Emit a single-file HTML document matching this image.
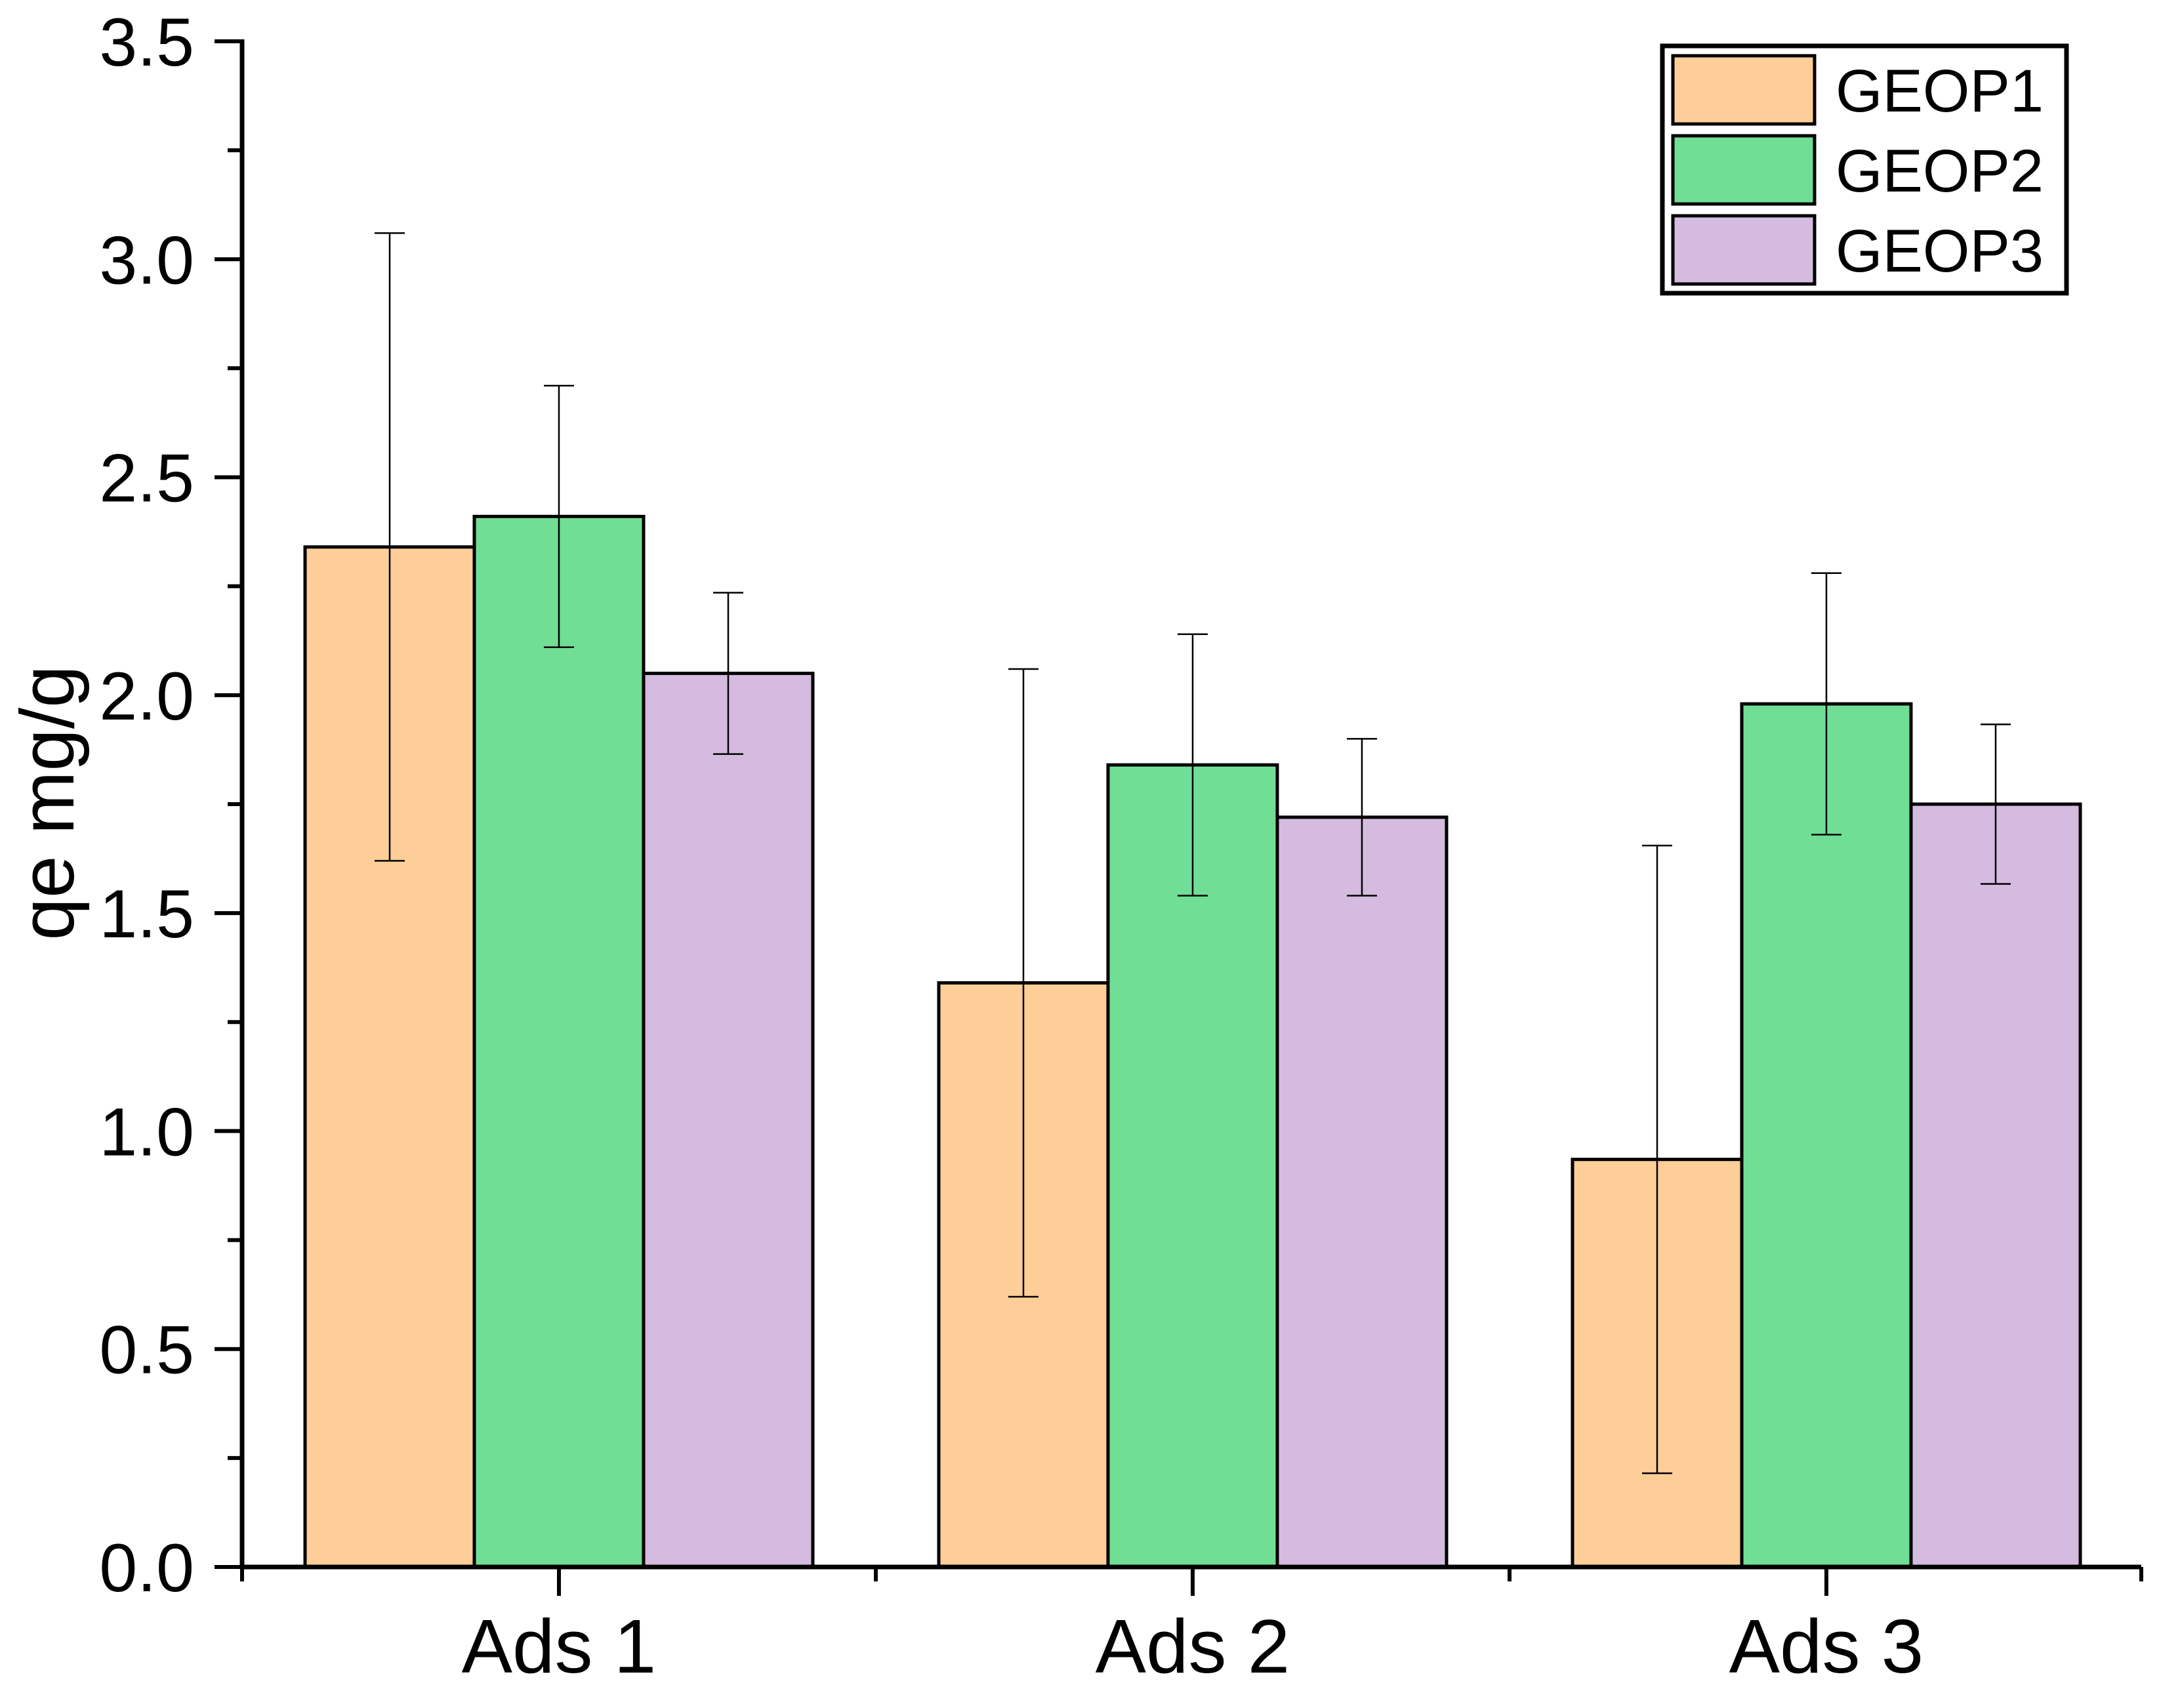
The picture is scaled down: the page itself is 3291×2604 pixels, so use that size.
<!DOCTYPE html>
<html><head><meta charset="utf-8"><style>
html,body{margin:0;padding:0;background:#fff;}
svg{display:block;font-family:"Liberation Sans",Arial,sans-serif;}
</style></head><body>
<svg id="chart" width="3291" height="2604" viewBox="0 0 3291 2604" xmlns="http://www.w3.org/2000/svg">
<g id="bars"></g>
<g id="errs"></g>
<g id="axes"></g>
<text transform="translate(112,1224) rotate(-90)" text-anchor="middle" font-size="116">qe mg/g</text>
<g>
<rect x="2534" y="70" width="616" height="377" fill="#fff" stroke="#000" stroke-width="7"/>
<rect x="2550" y="85" width="216" height="104" fill="#FECE98" stroke="#000" stroke-width="5"/>
<text x="2798" y="170" font-size="92">GEOP1</text>
<rect x="2550" y="207" width="216" height="104" fill="#70DE95" stroke="#000" stroke-width="5"/>
<text x="2798" y="292" font-size="92">GEOP2</text>
<rect x="2550" y="329" width="216" height="104" fill="#D4BBDF" stroke="#000" stroke-width="5"/>
<text x="2798" y="414" font-size="92">GEOP3</text>
</g>
</svg>
<script>
const categories = ["Ads 1","Ads 2","Ads 3"];
const seriesNames = ["GEOP1","GEOP2","GEOP3"];
const geop1 = [2.34, 1.34, 0.935];
const geop2 = [2.41, 1.84, 1.98];
const geop3 = [2.05, 1.72, 1.75];
const geop1Err = [0.72, 0.72, 0.72];
const geop2Err = [0.30, 0.30, 0.30];
const geop3Err = [0.185, 0.18, 0.183];
const yTicks = ["0.0","0.5","1.0","1.5","2.0","2.5","3.0","3.5"];

const NS="http://www.w3.org/2000/svg";
const X0=369, X1=3264, Y0=2389, YTOP=63, YMAX=3.5;
const colors=["#FECE98","#70DE95","#D4BBDF"];
const series=[geop1,geop2,geop3], errs=[geop1Err,geop2Err,geop3Err];
function yS(v){return Y0-(v/YMAX)*(Y0-YTOP);}
const groupStep=966, firstCenter=852;
function xC(i){return firstCenter+groupStep*i;}
const barW=258;
function mk(tag,attrs,parent){const e=document.createElementNS(NS,tag);for(const k in attrs)e.setAttribute(k,attrs[k]);parent.appendChild(e);return e;}
const gb=document.getElementById('bars'), ge=document.getElementById('errs'), ga=document.getElementById('axes');
categories.forEach((c,i)=>{
  series.forEach((s,j)=>{
    const x=xC(i)+(j-1.5)*barW, y=yS(s[i]);
    const r=mk('rect',{x:x,y:y,width:barW,height:Y0-y,fill:colors[j],stroke:'#000','stroke-width':5},gb);
    
    
    const cx=x+barW/2, yh=yS(s[i]+errs[j][i]), yl=yS(s[i]-errs[j][i]);
    const p=mk('path',{d:`M${cx},${yh}V${yl}M${cx-23},${yh}H${cx+23}M${cx-23},${yl}H${cx+23}`,stroke:'#000','stroke-width':2.5,fill:'none'},ge);
    
    
  });
  const cx=xC(i);
  const t=mk('path',{d:`M${cx},${Y0}V${Y0+44}`,stroke:'#000','stroke-width':6},ga);
  
  
  const lb=mk('text',{x:cx,y:2550,'text-anchor':'middle','font-size':116},ga);
  lb.textContent=c;
  
  
});
for(let i=0;i<=categories.length;i++){
  const xx = i==0?X0: (i==categories.length?X1:xC(i)-groupStep/2);
  const t=mk('path',{d:`M${xx},${Y0}V${Y0+22}`,stroke:'#000','stroke-width':6},ga);
  
  
}
yTicks.forEach((lab,i)=>{
  const v=parseFloat(lab), y=yS(v);
  const t=mk('path',{d:`M${X0-42},${y}H${X0}`,stroke:'#000','stroke-width':6},ga);
  
  
  const tx=mk('text',{x:296,y:y+37,'text-anchor':'end','font-size':104},ga);
  tx.textContent=lab;
  
  
  if(i<yTicks.length-1){
    const ym=yS(v+0.25);
    const m=mk('path',{d:`M${X0-22},${ym}H${X0}`,stroke:'#000','stroke-width':6},ga);
    
    
  }
});
const ax=mk('path',{d:`M${X0},${YTOP-3}V${Y0}H${X1}`,stroke:'#000','stroke-width':7,fill:'none'},ga);


</script>
</body></html>
